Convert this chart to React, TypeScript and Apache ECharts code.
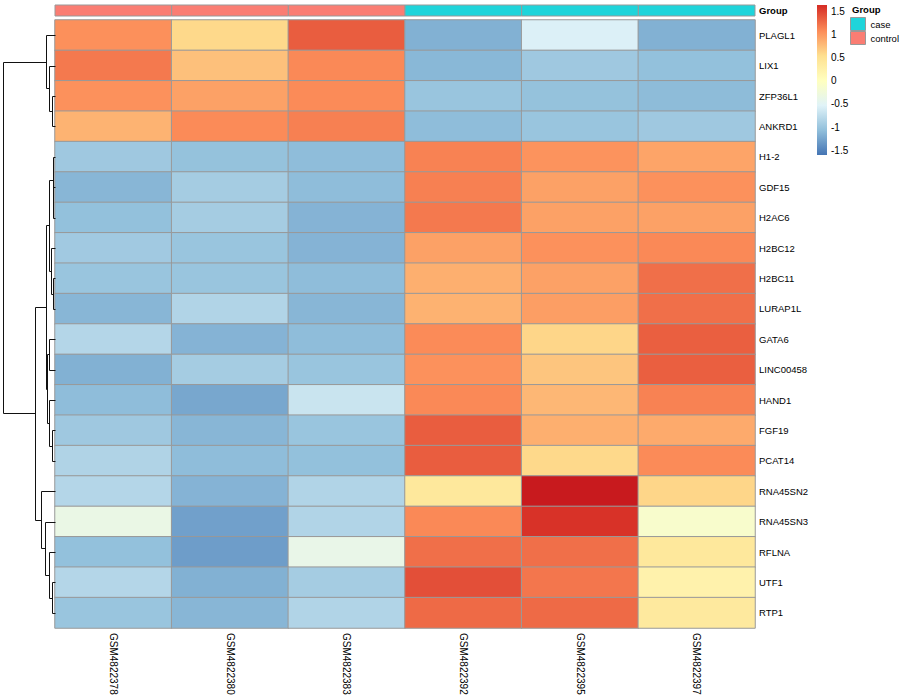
import React, { useEffect, useRef } from 'react';
import * as echarts from 'echarts';

const samples = ['GSM4822378', 'GSM4822380', 'GSM4822383', 'GSM4822392', 'GSM4822395', 'GSM4822397'];
const groups = ['control', 'control', 'control', 'case', 'case', 'case'];
const genes = ['PLAGL1', 'LIX1', 'ZFP36L1', 'ANKRD1', 'H1-2', 'GDF15', 'H2AC6', 'H2BC12', 'H2BC11', 'LURAP1L',
  'GATA6', 'LINC00458', 'HAND1', 'FGF19', 'PCAT14', 'RNA45SN2', 'RNA45SN3', 'RFLNA', 'UTF1', 'RTP1'];

// row z-scores, one row per gene, columns in sample order
const zscores = [
  [1.05, 0.58, 1.34, -1.17, -0.56, -1.17],
  [1.18, 0.74, 1.09, -1.12, -0.97, -1.05],
  [1.04, 0.94, 1.08, -1.01, -1.04, -1.09],
  [0.82, 1.08, 1.14, -1.08, -1.01, -0.97],
  [-0.97, -1.04, -1.08, 1.13, 1.03, 0.92],
  [-1.13, -0.93, -1.08, 1.14, 0.94, 1.04],
  [-1.05, -0.93, -1.15, 1.18, 0.94, 0.94],
  [-0.96, -1.01, -1.15, 0.94, 1.04, 1.09],
  [-1.01, -1.01, -1.08, 0.85, 0.94, 1.24],
  [-1.13, -0.85, -1.13, 0.83, 0.96, 1.24],
  [-0.83, -1.15, -1.08, 1.08, 0.60, 1.33],
  [-1.17, -0.93, -1.01, 1.04, 0.71, 1.33],
  [-1.08, -1.24, -0.69, 1.09, 0.80, 1.13],
  [-0.97, -1.13, -1.01, 1.34, 0.85, 0.88],
  [-0.86, -1.08, -1.05, 1.34, 0.58, 1.08],
  [-0.83, -1.15, -0.85, 0.40, 1.85, 0.60],
  [-0.36, -1.29, -0.85, 1.09, 1.59, -0.12],
  [-1.05, -1.31, -0.38, 1.24, 1.24, 0.40],
  [-0.83, -1.17, -0.93, 1.42, 1.20, 0.22],
  [-1.01, -1.13, -0.85, 1.27, 1.27, 0.38],
];

// row dendrogram, hclust-style merges: negative = leaf (row index + 1), positive = earlier merge (1-based)
const merges: [number, number, number][] = [
  [-19, -20, 3],
  [-18, 1, 6],
  [-17, 2, 10],
  [-16, 3, 14],
  [-3, -4, 3],
  [-2, 5, 6],
  [-1, 6, 9],
  [-6, -7, 2],
  [-5, 8, 2.5],
  [-9, -10, 2],
  [-8, 10, 4],
  [9, 11, 6],
  [-11, -12, 6],
  [-14, -15, 3],
  [-13, 14, 6],
  [13, 15, 8.5],
  [12, 16, 9],
  [17, 4, 20],
  [7, 18, 52],
];
const treeMaxHeight = 52;

const legendTicks = [-1.5, -1, -0.5, 0, 0.5, 1, 1.5];
const legendExtent = [-1.6, 1.63];

const palette = ['#4575B4', '#91BFDB', '#E0F3F8', '#FFFFBF', '#FEE090', '#FC8D59', '#D73027', '#B70014'];
const colorMin = -1.6;
const colorStep = 3.2 / 6;
const colorMax = colorMin + colorStep * (palette.length - 1);

const groupColors: Record<string, string> = { case: '#1FD4DA', control: '#FA7D73' };

const FONT = '"Liberation Sans", Arial, Helvetica, sans-serif';

function treeLinks() {
  const pos: { y: number; h: number }[] = [];
  const get = (r: number) => (r < 0 ? { y: -r - 1, h: 0 } : pos[r - 1]);
  const links: number[][] = [];
  merges.forEach(([a, b, h]) => {
    const A = get(a);
    const B = get(b);
    links.push([A.h, A.y, h, B.y, B.h]);
    pos.push({ y: (A.y + B.y) / 2, h });
  });
  return links;
}

const snap = (p: number[]) => [Math.round(p[0]) + 0.5, Math.round(p[1]) + 0.5];

export default function App() {
  const ref = useRef<HTMLDivElement>(null);
  useEffect(() => {
    if (!ref.current) return;
    const chart = echarts.init(ref.current, null, { renderer: 'svg' });

    const heatData: number[][] = [];
    zscores.forEach((row, r) => row.forEach((v, c) => heatData.push([c, r, v])));

    const top = legendExtent[1];
    const bottom = legendExtent[0];
    const stops = palette
      .map((color, k) => ({ v: colorMin + k * colorStep, color }))
      .filter((s) => s.v <= top + 0.05)
      .map((s) => ({ offset: Math.min(1, Math.max(0, (top - s.v) / (top - bottom))), color: s.color }))
      .sort((a, b) => a.offset - b.offset);

    const annotSeries = ['control', 'case'].map((g) => ({
      name: g,
      type: 'custom',
      xAxisIndex: 1,
      yAxisIndex: 1,
      itemStyle: { color: groupColors[g] },
      data: groups.map((gg, i) => (gg === g ? [i, 0] : null)).filter((d) => d !== null),
      renderItem: (params: any, api: any) => {
        const c = api.coord([api.value(0), 0]);
        const s = api.size([1, 1]);
        return {
          type: 'rect',
          shape: { x: c[0] - s[0] / 2, y: c[1] - s[1] / 2, width: s[0], height: s[1] },
          style: { fill: groupColors[g], stroke: '#999', lineWidth: 1 },
        };
      },
    }));

    const option: any = {
      animation: false,
      backgroundColor: '#fff',
      textStyle: { fontFamily: FONT },
      grid: [
        { left: 55, top: 20, width: 700, height: 608 },
        { left: 55, top: 5, width: 700, height: 11 },
        { left: 3, top: 20, width: 52, height: 608 },
        { left: 817, top: 5, width: 10, height: 150 },
      ],
      xAxis: [
        {
          type: 'category', gridIndex: 0, data: samples, position: 'bottom',
          axisLine: { show: false }, axisTick: { show: false }, splitLine: { show: false },
          axisLabel: { rotate: -90, margin: 5, fontSize: 10, color: '#000', fontFamily: FONT, interval: 0 },
        },
        { type: 'category', gridIndex: 1, data: samples, show: false },
        { type: 'value', gridIndex: 2, min: 0, max: treeMaxHeight, inverse: true, show: false },
        { type: 'value', gridIndex: 3, min: 0, max: 1, show: false },
      ],
      yAxis: [
        {
          type: 'category', gridIndex: 0, data: genes, inverse: true, position: 'right',
          axisLine: { show: false }, axisTick: { show: false }, splitLine: { show: false },
          axisLabel: { margin: 4, fontSize: 9.5, color: '#000', fontFamily: FONT, interval: 0 },
        },
        {
          type: 'category', gridIndex: 1, data: ['Group'], position: 'right',
          axisLine: { show: false }, axisTick: { show: false },
          axisLabel: { margin: 4, fontSize: 9.5, fontWeight: 'bold', color: '#000', fontFamily: FONT },
        },
        { type: 'value', gridIndex: 2, min: -0.5, max: genes.length - 0.5, inverse: true, show: false },
        {
          type: 'value', gridIndex: 3, min: legendExtent[0], max: legendExtent[1], position: 'right',
          axisLine: { show: false }, axisTick: { show: false }, splitLine: { show: false },
          axisLabel: { customValues: legendTicks, margin: 4, fontSize: 10, color: '#000', fontFamily: FONT },
        },
      ],
      visualMap: [
        {
          type: 'continuous', show: false, seriesIndex: 0, min: colorMin, max: colorMax,
          inRange: { color: palette },
        },
      ],
      legend: {
        orient: 'vertical', left: 850, top: 17, padding: 0, itemWidth: 15, itemHeight: 13, itemGap: 0,
        icon: 'rect', selectedMode: false, data: ['case', 'control'],
        textStyle: { fontSize: 9.5, color: '#000', fontFamily: FONT },
        itemStyle: { borderColor: '#999', borderWidth: 1 },
      },
      graphic: [
        {
          type: 'text', left: 852, top: 4,
          style: { text: 'Group', fontSize: 9.5, fontWeight: 'bold', fontFamily: FONT, fill: '#000' },
        },
      ],
      series: [
        {
          type: 'heatmap', xAxisIndex: 0, yAxisIndex: 0, data: heatData,
          itemStyle: { borderColor: '#999', borderWidth: 1 },
          emphasis: { disabled: true },
        },
        ...annotSeries,
        {
          type: 'custom', xAxisIndex: 2, yAxisIndex: 2, data: treeLinks(),
          encode: { x: [0, 2, 4], y: [1, 3] },
          renderItem: (params: any, api: any) => {
            const p0 = snap(api.coord([api.value(0), api.value(1)]));
            const p1 = snap(api.coord([api.value(2), api.value(1)]));
            const p2 = snap(api.coord([api.value(2), api.value(3)]));
            const p3 = snap(api.coord([api.value(4), api.value(3)]));
            return {
              type: 'polyline',
              shape: { points: [p0, p1, p2, p3] },
              style: { stroke: '#111', lineWidth: 1, fill: 'none' },
            };
          },
        },
        {
          type: 'custom', xAxisIndex: 3, yAxisIndex: 3, data: [[0, legendExtent[1], 1, legendExtent[0]]],
          encode: { x: [0, 2], y: [1, 3] },
          renderItem: (params: any, api: any) => {
            const a = api.coord([api.value(0), api.value(1)]);
            const b = api.coord([api.value(2), api.value(3)]);
            return {
              type: 'rect',
              shape: { x: a[0], y: a[1], width: b[0] - a[0], height: b[1] - a[1] },
              style: { fill: new echarts.graphic.LinearGradient(0, 0, 0, 1, stops) },
            };
          },
        },
      ],
    };
    chart.setOption(option);
    return () => chart.dispose();
  }, []);
  return <div ref={ref} style={{ position: 'fixed', left: 0, top: 0, width: 900, height: 700, background: '#fff' }} />;
}
